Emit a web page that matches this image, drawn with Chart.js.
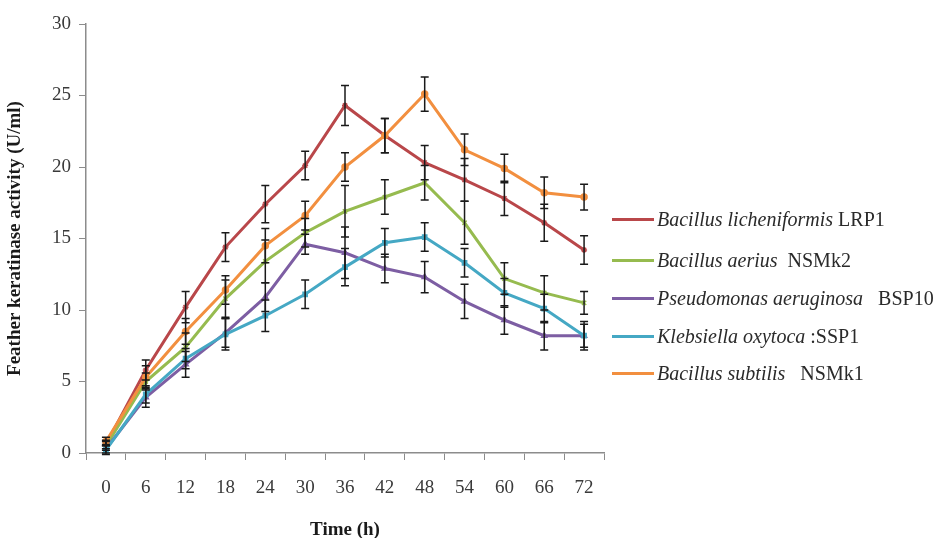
<!DOCTYPE html>
<html>
<head>
<meta charset="utf-8">
<script src="https://cdn.jsdelivr.net/npm/chart.js@4.4.1/dist/chart.umd.min.js"></script>
<style>
  html, body { margin: 0; padding: 0; background: #fff; }
  #wrap { position: relative; width: 941px; height: 538px; }
  #legend { position: absolute; left: 612px; top: 0; font-family: "Liberation Serif", serif; font-size: 20px; color: #2a2a2a; }
  .row { position: absolute; left: 0; white-space: pre; height: 22px; line-height: 22px; }
  .sample { position: absolute; left: 0; top: 10px; width: 42px; height: 3px; }
  .lbl { position: absolute; left: 45px; top: 0; }
  .lbl i { font-style: italic; }
</style>
</head>
<body>
<div id="wrap">
  <canvas id="chart" width="941" height="538"></canvas>
  <div id="legend"></div>
</div>
<script>
// time points (h)
var times = ['0', '6', '12', '18', '24', '30', '36', '42', '48', '54', '60', '66', '72'];

// feather keratinase activity (U/ml)
var licheniformis = [0.6, 5.8, 10.2, 14.4, 17.4, 20.1, 24.3, 22.2, 20.3, 19.1, 17.8, 16.1, 14.2];
var aerius        = [0.5, 5.0, 7.4, 10.8, 13.4, 15.4, 16.9, 17.9, 18.9, 16.1, 12.2, 11.2, 10.5];
var aeruginosa    = [0.3, 3.9, 6.2, 8.4, 10.9, 14.6, 14.0, 12.9, 12.3, 10.6, 9.3, 8.2, 8.2];
var oxytoca       = [0.2, 4.1, 6.6, 8.3, 9.6, 11.1, 13.0, 14.7, 15.1, 13.3, 11.2, 10.1, 8.2];
var subtilis      = [0.8, 5.3, 8.5, 11.4, 14.5, 16.6, 20.0, 22.2, 25.1, 21.2, 19.9, 18.2, 17.9];

// error bar half-widths
var errLicheniformis = [0.3, 0.7, 1.1, 1.0, 1.3, 1.0, 1.4, 1.2, 1.2, 1.5, 1.2, 1.3, 1.0];
var errAerius        = [0.3, 0.6, 1.0, 1.3, 1.5, 1.0, 1.8, 1.2, 1.2, 1.5, 1.1, 1.2, 0.8];
var errAeruginosa    = [0.3, 0.7, 0.9, 1.0, 1.0, 0.7, 1.8, 1.0, 1.1, 1.2, 1.0, 1.0, 0.8];
var errOxytoca       = [0.3, 0.6, 0.7, 1.1, 1.1, 1.0, 1.3, 1.0, 1.0, 1.0, 1.0, 1.0, 1.0];
var errSubtilis      = [0.3, 0.8, 0.9, 1.0, 1.2, 1.0, 1.0, 1.2, 1.2, 1.1, 1.0, 1.1, 0.9];

var species = ['Bacillus licheniformis', 'Bacillus aerius', 'Pseudomonas aeruginosa', 'Klebsiella oxytoca', 'Bacillus subtilis'];
var strains = [' LRP1', '  NSMk2', '   BSP10', ' :SSP1', '   NSMk1'];

var colors = ['#b9474a', '#96bb4f', '#7d5ea3', '#45a8c4', '#f28f3f'];
var markers = ['star', 'crossRot', 'triangle', 'rect', 'circle'];
var series = [licheniformis, aerius, aeruginosa, oxytoca, subtilis];
var errors = [errLicheniformis, errAerius, errAeruginosa, errOxytoca, errSubtilis];

var serif = '"Liberation Serif", "DejaVu Serif", serif';

var datasets = series.map(function (s, i) {
    return {
        label: species[i] + strains[i],
        data: s,
        borderColor: colors[i],
        backgroundColor: colors[i],
        borderWidth: 3,
        pointStyle: markers[i],
        pointRadius: 3,
        pointBorderWidth: 1.5,
        tension: 0,
        order: 4 - i
    };
});

// draws the black error bars from the error arrays
var errorBars = {
    id: 'errorBars',
    afterDatasetsDraw: function (chart) {
        var ctx = chart.ctx;
        var y = chart.scales.y;
        ctx.save();
        ctx.strokeStyle = '#1a1a1a';
        ctx.lineWidth = 1.5;
        chart.data.datasets.forEach(function (ds, i) {
            var meta = chart.getDatasetMeta(i);
            meta.data.forEach(function (pt, j) {
                var v = ds.data[j], e = errors[i][j];
                var top = y.getPixelForValue(v + e), bot = y.getPixelForValue(v - e);
                ctx.beginPath();
                ctx.moveTo(pt.x, top); ctx.lineTo(pt.x, bot);
                ctx.moveTo(pt.x - 4, top); ctx.lineTo(pt.x + 4, top);
                ctx.moveTo(pt.x - 4, bot); ctx.lineTo(pt.x + 4, bot);
                ctx.stroke();
            });
        });
        ctx.restore();
    }
};

var ctx = document.getElementById('chart').getContext('2d');
var chart = new Chart(ctx, {
    type: 'line',
    data: { labels: times, datasets: datasets },
    plugins: [errorBars],
    options: {
        responsive: false,
        animation: false,
        layout: { padding: { left: 0, right: 337, top: 24, bottom: 0 } },
        plugins: { legend: { display: false }, tooltip: { enabled: false } },
        scales: {
            x: {
                offset: true,
                grid: { display: true, drawOnChartArea: false, color: '#8c8c8c', tickLength: 7, offset: true },
                border: { color: '#8c8c8c', width: 1.5 },
                ticks: { color: '#3a3a3a', font: { family: serif, size: 19 }, padding: 17, maxRotation: 0 },
                title: { display: true, text: 'Time (h)', color: '#1a1a1a', font: { family: serif, size: 19, weight: 'bold' }, padding: { top: 20, bottom: -3 } },
                afterFit: function (s) { s.height = 85; }
            },
            y: {
                min: 0, max: 30,
                ticks: { stepSize: 5, color: '#3a3a3a', font: { family: serif, size: 19 }, padding: 8 },
                grid: { display: true, drawOnChartArea: false, color: '#8c8c8c', tickLength: 7 },
                border: { color: '#8c8c8c', width: 1.5 },
                title: { display: true, text: 'Feather keratinase activity (U/ml)', color: '#1a1a1a', font: { family: serif, size: 19, weight: 'bold' }, padding: { bottom: 6 } },
                afterFit: function (s) { s.width = 86; }
            }
        }
    }
});

// legend with italic species names
var legendTops = [208, 249, 287, 325, 362];
var legend = document.getElementById('legend');
species.forEach(function (name, i) {
    var row = document.createElement('div');
    row.className = 'row';
    row.style.top = legendTops[i] + 'px';
    var sample = document.createElement('div');
    sample.className = 'sample';
    sample.style.background = colors[i];
    var lbl = document.createElement('span');
    lbl.className = 'lbl';
    var it = document.createElement('i');
    it.textContent = name;
    lbl.appendChild(it);
    lbl.appendChild(document.createTextNode(strains[i]));
    row.appendChild(sample);
    row.appendChild(lbl);
    legend.appendChild(row);
});
</script>
</body>
</html>
